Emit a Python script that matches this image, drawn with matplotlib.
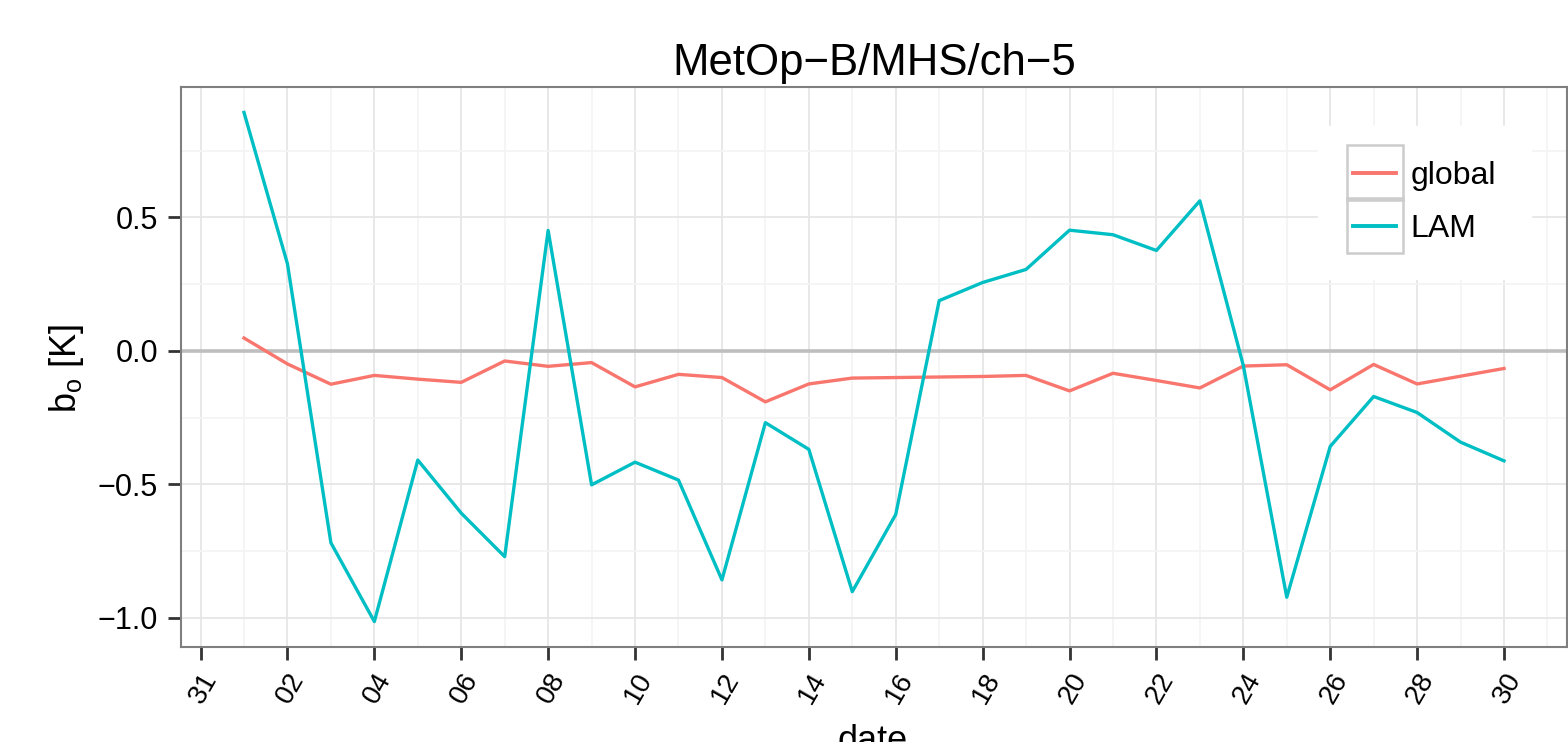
import numpy as np
import pandas as pd
import matplotlib
matplotlib.use('Agg')
import matplotlib.pyplot as plt
import matplotlib.dates as mdates
from matplotlib.patches import Rectangle
from matplotlib.ticker import FuncFormatter

plt.rcParams['font.family'] = ['Liberation Sans', 'DejaVu Sans']
plt.rcParams['mathtext.fontset'] = 'custom'
plt.rcParams['mathtext.rm'] = 'Liberation Sans'
plt.rcParams['mathtext.it'] = 'Liberation Sans:italic'

# data (one value per day)
dates = pd.date_range('2013-09-01', '2013-09-30', freq='D')
global_bias = [0.048, -0.049, -0.125, -0.092, -0.106, -0.118, -0.038, -0.058, -0.044, -0.135,
               -0.088, -0.100, -0.191, -0.124, -0.102, -0.100, -0.098, -0.096, -0.092, -0.150,
               -0.084, -0.111, -0.139, -0.057, -0.052, -0.146, -0.051, -0.124, -0.095, -0.066]
lam_bias = [0.893, 0.326, -0.719, -1.014, -0.409, -0.608, -0.771, 0.451, -0.502, -0.417,
            -0.484, -0.858, -0.269, -0.369, -0.902, -0.613, 0.188, 0.256, 0.305, 0.452,
            0.435, 0.376, 0.562, -0.055, -0.923, -0.358, -0.171, -0.231, -0.342, -0.412]
series_names = ['global', 'LAM']
series_colors = ['#F8766D', '#00BFC4']

x_major = pd.date_range('2013-08-31', '2013-09-30', freq='2D')
x_minor = pd.date_range('2013-09-01', '2013-10-01', freq='2D')
y_major = [-1.0, -0.5, 0.0, 0.5]
y_minor = [-0.75, -0.25, 0.25, 0.75]

W, H = 1568, 742
fig = plt.figure(figsize=(W / 100, H / 100), dpi=100)
ax = fig.add_axes([181 / W, 1 - 647 / H, (1567 - 181) / W, (647 - 87) / H])

ax.axhline(0, color='#BEBEBE', lw=2.6, zorder=1.5)
for name, vals, col in zip(series_names, [global_bias, lam_bias], series_colors):
    ax.plot(dates, vals, color=col, lw=2.4, label=name, zorder=2)

# ggplot style 5% expansion
span = dates[-1] - dates[0]
ax.set_xlim(dates[0] - span * 0.05, dates[-1] + span * 0.05)
allv = np.array(global_bias + lam_bias)
r = allv.max() - allv.min()
ax.set_ylim(allv.min() - 0.05 * r, allv.max() + 0.05 * r)

ax.set_xticks(x_major)
ax.set_xticks(x_minor, minor=True)
ax.xaxis.set_major_formatter(mdates.DateFormatter('%d'))
ax.set_yticks(y_major)
ax.set_yticks(y_minor, minor=True)
ax.yaxis.set_major_formatter(FuncFormatter(lambda v, p: f'{v:.1f}'.replace('-', '\u2212')))

ax.set_axisbelow(True)
ax.grid(which='major', color='#E6E6E6', lw=1.3)
ax.grid(which='minor', color='#F4F4F4', lw=1.3)
ax.tick_params(which='minor', length=0)
ax.tick_params(which='major', length=9.5, width=2, color='#333333')
ax.tick_params(axis='y', labelsize=22, pad=7)
ax.tick_params(axis='x', labelsize=20, pad=6)
for lab in ax.get_xticklabels():
    lab.set_rotation(60)
    lab.set_ha('right')
    lab.set_va('top')
    lab.set_rotation_mode('anchor')
for s in ax.spines.values():
    s.set_color('#7F7F7F')
    s.set_linewidth(1.5)

fig.text(874 / W, 1 - 75 / H, 'MetOp\u2212B/MHS/ch\u22125', ha='center', va='baseline', fontsize=31.5)
fig.text(66 / W, 1 - 368 / H, r'b$_{\mathrm{o}}$ [K]', rotation=90, ha='center', va='center', fontsize=26)
fig.text(873 / W, 1 - 751 / H, 'date', ha='center', va='baseline', fontsize=26)

leg = ax.legend(loc='upper left', bbox_to_anchor=(1318 / W, 1 - 126 / H),
                bbox_transform=fig.transFigure, fontsize=23, frameon=True, fancybox=False,
                facecolor='white', edgecolor='white', framealpha=1, handlelength=1.35,
                handletextpad=0.45, labelspacing=0.72, borderpad=1.1, borderaxespad=0)
for h in leg.legend_handles:
    h.set_linewidth(2.8)

fig.canvas.draw()
for h in leg.legend_handles:
    bb = h.get_window_extent(fig.canvas.get_renderer())
    cx, cy = (bb.x0 + bb.x1) / 2, (bb.y0 + bb.y1) / 2
    rect = Rectangle(((cx - 28) / W, (cy - 27.5) / H), 56 / W, 55 / H, transform=fig.transFigure,
                     facecolor='none', edgecolor='#CCCCCC', lw=1.8, zorder=10)
    fig.add_artist(rect)

fig.savefig('out.png', dpi=100)
